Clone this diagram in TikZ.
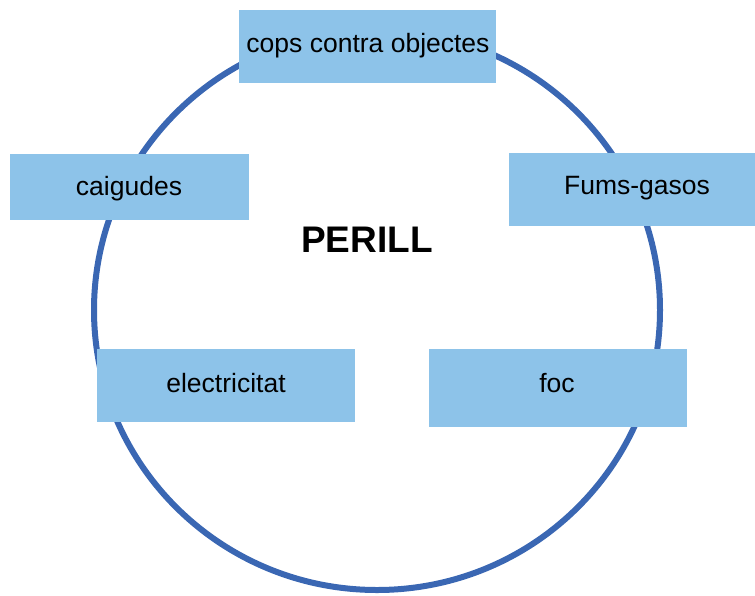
\documentclass[tikz,border=0pt]{standalone}
\usepackage{fontspec}
\setmainfont{Liberation Sans}
\definecolor{ringblue}{HTML}{3A67B3}
\definecolor{boxblue}{HTML}{8DC3E9}
\begin{document}
\begin{tikzpicture}[x=1pt,y=-1pt,
  hazbox/.style={fill=boxblue,draw=none},
  lbl/.style={anchor=base,inner sep=0pt,font=\fontsize{26.5}{30}\selectfont}]
\useasboundingbox (0,0) rectangle (755,595);
\draw[ringblue,line width=6pt] (377,310) ellipse [x radius=283, y radius=280];
\fill[hazbox] (239,10) rectangle (496,83);
\fill[hazbox] (10,154) rectangle (249,220);
\fill[hazbox] (509,153) rectangle (755,226);
\fill[hazbox] (97,349) rectangle (355,422);
\fill[hazbox] (429,349) rectangle (687,427);
\node[lbl] (cops) at (368,52) {cops contra objectes};
\node[lbl] (caig) at (129,195) {caigudes};
\node[lbl] (fums) at (637,194) {Fums-gasos};
\node[lbl] (elec) at (226,392) {electricitat};
\node[lbl] (foc) at (557,392) {foc};
\node[anchor=base,inner sep=0pt,font=\fontsize{37}{40}\selectfont\bfseries] (perill) at (367,252) {PERILL};
\end{tikzpicture}
\end{document}
